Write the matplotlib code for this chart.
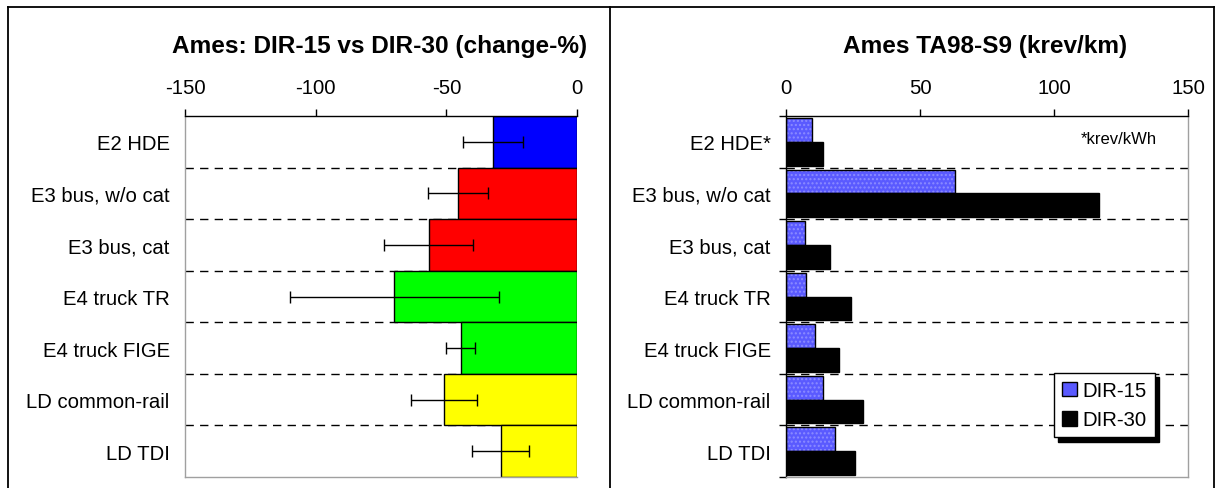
import matplotlib
matplotlib.use("Agg")
import matplotlib.pyplot as plt
from matplotlib.lines import Line2D
from matplotlib.patches import Patch
import numpy as np

plt.rcParams['font.family'] = ['Liberation Sans', 'DejaVu Sans']

# ---- data ----
categories_left = ["E2 HDE", "E3 bus, w/o cat", "E3 bus, cat", "E4 truck TR",
                   "E4 truck FIGE", "LD common-rail", "LD TDI"]
change_pct = [-32, -45.7, -56.7, -70, -44.5, -51, -29.2]
change_err = [11.5, 11.5, 17, 40, 5.5, 12.7, 10.8]
bar_colors = ["#0000ff", "#ff0000", "#ff0000", "#00ff00", "#00ff00", "#ffff00", "#ffff00"]

categories_right = ["E2 HDE*", "E3 bus, w/o cat", "E3 bus, cat", "E4 truck TR",
                    "E4 truck FIGE", "LD common-rail", "LD TDI"]
dir15 = [9.7, 63.2, 7.1, 7.6, 10.7, 13.9, 18.2]
dir30 = [13.9, 116.7, 16.4, 24.2, 19.6, 28.7, 25.6]
series_names = ["DIR-15", "DIR-30"]

left_ticks = [-150, -100, -50, 0]
right_ticks = [0, 50, 100, 150]

W, H = 1216, 489
fig = plt.figure(figsize=(W / 100, H / 100), dpi=100)

def rect(x0, y0, x1, y1):
    return [x0 / W, 1 - y1 / H, (x1 - x0) / W, (y1 - y0) / H]

FS = 14.6
TFS = 17.6

axL = fig.add_axes(rect(185, 117, 577, 478))
axR = fig.add_axes(rect(786, 117, 1188, 478))

n = len(categories_left)
y = np.arange(n)
bounds = np.arange(n + 1) - 0.5

# ---- left panel ----
for b in bounds[1:-1]:
    axL.axhline(b, color="black", lw=1, ls=(0, (6, 4.5)), zorder=1)
axL.barh(y, change_pct, height=1.0, color=bar_colors, edgecolor="black",
         linewidth=1, zorder=2)
axL.errorbar(change_pct, y, xerr=change_err, fmt="none", ecolor="black",
             elinewidth=1, capsize=4, capthick=1, zorder=3)
axL.set_xlim(-150, 0)
axL.set_ylim(n - 0.5, -0.5)
axL.xaxis.tick_top()
axL.set_xticks(left_ticks)
axL.set_xticklabels([str(t) for t in left_ticks])
axL.tick_params(axis="x", direction="out", length=5, width=1, pad=9, labelsize=FS)
axL.set_yticks(y)
axL.set_yticklabels(categories_left)
axL.tick_params(axis="y", length=0, pad=11, labelsize=FS)
axL.spines["top"].set_color("black")
axL.spines["left"].set_color("#a0a0a0")
axL.spines["bottom"].set_color("#a0a0a0")
axL.spines["right"].set_visible(False)
for s in axL.spines.values():
    s.set_linewidth(1)
    s.set_zorder(4)

# ---- right panel ----
h = 0.46
for b in bounds[1:-1]:
    axR.axhline(b, color="black", lw=1, ls=(0, (6, 4.5)), zorder=1)
axR.barh(y - h / 2, dir15, height=h, color="#5a5aff", edgecolor="#8c8cff",
         hatch="....", linewidth=0, zorder=2)
axR.barh(y - h / 2, dir15, height=h, color="none", edgecolor="black",
         linewidth=1, zorder=2.5)
axR.barh(y + h / 2, dir30, height=h, color="black", edgecolor="black",
         linewidth=1, zorder=2)
axR.set_xlim(0, 150)
axR.set_ylim(n - 0.5, -0.5)
axR.xaxis.tick_top()
axR.set_xticks(right_ticks)
axR.set_xticklabels([str(t) for t in right_ticks])
axR.tick_params(axis="x", direction="out", length=5, width=1, pad=9, labelsize=FS)
axR.set_yticks(y)
axR.set_yticklabels(categories_right)
axR.set_yticks(bounds, minor=True)
axR.tick_params(axis="y", which="major", length=0, pad=11, labelsize=FS)
axR.tick_params(axis="y", which="minor", direction="out", length=5, width=1)
axR.spines["top"].set_color("black")
axR.spines["left"].set_color("black")
axR.spines["right"].set_color("#a0a0a0")
axR.spines["bottom"].set_color("#a0a0a0")
for s in axR.spines.values():
    s.set_linewidth(1)
    s.set_zorder(4)

fig.text(1081 / W, 1 - 140 / H, "*krev/kWh", fontsize=12, va="center", ha="left")

handles = [Patch(facecolor="#5a5aff", edgecolor="black", lw=1),
           Patch(facecolor="black", edgecolor="black", lw=1)]
leg = axR.legend(handles, series_names, loc="upper left",
                 bbox_to_anchor=(1054 / W, 1 - 374 / H), bbox_transform=fig.transFigure,
                 fontsize=FS, frameon=True, fancybox=False, borderpad=0.4,
                 handlelength=0.75, handleheight=0.75, handletextpad=0.25,
                 labelspacing=0.5, borderaxespad=0,
                 shadow={"color": "black", "alpha": 1, "ox": 3, "oy": -3})
leg.get_frame().set_edgecolor("black")
leg.get_frame().set_linewidth(1)
leg.set_zorder(6)

# ---- titles ----
fig.text(380 / W, 1 - 47 / H, "Ames: DIR-15 vs DIR-30 (change-%)", ha="center",
         va="center", fontsize=TFS, fontweight="bold")
fig.text(985 / W, 1 - 47 / H, "Ames TA98-S9 (krev/km)", ha="center",
         va="center", fontsize=TFS, fontweight="bold")

# ---- outer frames ----
def fline(xs, ys, color="black", lw=1.3):
    fig.add_artist(Line2D([x / W for x in xs], [1 - v / H for v in ys],
                          color=color, lw=lw, transform=fig.transFigure))

fline([8, 8], [8, 489])
fline([8, 1214], [8, 8])
fline([610, 610], [8, 489])
fline([1214, 1214], [8, 489])

fig.savefig("out.png", dpi=100)
